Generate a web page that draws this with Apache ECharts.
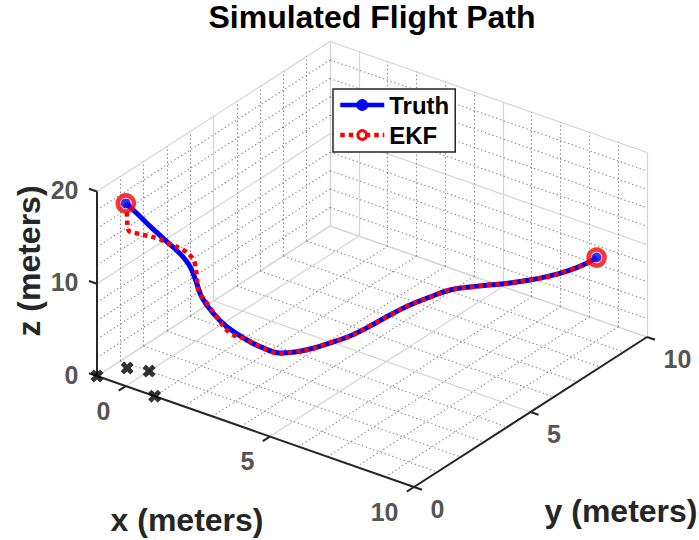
<!DOCTYPE html>
<html>
<head>
<meta charset="utf-8">
<script src="https://cdn.jsdelivr.net/npm/echarts@6/dist/echarts.min.js"></script>
<style>
  html, body { margin: 0; padding: 0; background: #fff; }
  #chart { width: 699px; height: 540px; }
</style>
</head>
<body>
<div id="chart"></div>
<script>
// True flight path samples (meters)
const truthX = [0.00, 0.20, 0.39, 0.55, 0.71, 0.96, 1.14, 1.32, 1.48, 1.75, 2.13, 2.69, 3.06, 3.57, 3.77, 3.94, 4.15, 4.35, 4.49, 4.58, 4.75, 5.01, 5.35, 5.82, 6.30, 6.77, 7.22, 7.62, 7.93, 8.12, 8.25];
const truthY = [0.00, 0.22, 0.42, 0.65, 0.88, 1.13, 1.35, 1.41, 1.42, 1.59, 1.70, 1.87, 1.98, 2.21, 2.60, 3.03, 3.63, 4.24, 4.93, 5.67, 6.32, 6.85, 7.30, 7.57, 7.84, 8.11, 8.42, 8.78, 9.26, 9.67, 10.00];
const truthZ = [19.8, 18.6, 17.4, 16.2, 15.0, 13.6, 12.0, 10.3, 9.0, 7.2, 6.0, 4.9, 4.4, 3.9, 3.6, 3.4, 3.3, 3.3, 3.4, 3.5, 3.7, 4.0, 4.4, 4.8, 5.1, 5.4, 5.7, 6.0, 6.2, 6.4, 6.7];

// EKF position estimates (meters)
const ekfX = [0.00, 0.01, 0.08, 0.32, 0.75, 1.06, 1.30, 1.43, 1.45, 1.51, 1.56, 1.78, 2.07, 2.49, 2.71, 3.05, 3.58, 3.76, 3.95, 4.14, 4.36, 4.48, 4.59, 4.74, 5.02, 5.34, 5.83, 6.29, 6.78, 7.21, 7.63, 7.92, 8.13, 8.25];
const ekfY = [0.00, 0.03, 0.01, 0.07, 0.40, 0.59, 0.85, 1.06, 1.17, 1.18, 1.18, 1.27, 1.34, 1.40, 1.86, 1.99, 2.20, 2.61, 3.02, 3.64, 4.23, 4.94, 5.66, 6.33, 6.84, 7.31, 7.56, 7.85, 8.10, 8.43, 8.77, 9.27, 9.66, 10.00];
const ekfZ = [19.8, 18.7, 17.0, 16.8, 16.2, 15.6, 14.8, 13.8, 13.0, 11.6, 10.2, 8.9, 7.6, 6.2, 4.95, 4.40, 3.88, 3.62, 3.38, 3.31, 3.28, 3.42, 3.49, 3.72, 3.98, 4.41, 4.79, 5.12, 5.38, 5.71, 5.99, 6.21, 6.39, 6.70];

// Ground beacons (meters)
const beaconX = [-1, -0.6, 0, 1];
const beaconY = [0, 0.8, 1, 0];
const beaconZ = [0, 0, 0, 0];

// Axis limits, major ticks and minor grid steps
const xLim = [-1, 10];
const yLim = [0, 10];
const zLim = [0, 20];
const xTicks = [0, 5, 10];
const yTicks = [0, 5, 10];
const zTicks = [0, 10, 20];
const xMinorStep = 1, yMinorStep = 1, zMinorStep = 2;

// Orthographic view of the plot box: screen position of the (xmin, ymin, zmin)
// corner and the screen vector spanned by each full box edge.
const view = { corner: [97, 376], xEdge: [317, 111], yEdge: [233, -150], zEdge: [0, -184.5] };

function project(x, y, z) {
  const fx = (x - xLim[0]) / (xLim[1] - xLim[0]);
  const fy = (y - yLim[0]) / (yLim[1] - yLim[0]);
  const fz = (z - zLim[0]) / (zLim[1] - zLim[0]);
  return [
    view.corner[0] + fx * view.xEdge[0] + fy * view.yEdge[0] + fz * view.zEdge[0],
    view.corner[1] + fx * view.xEdge[1] + fy * view.yEdge[1] + fz * view.zEdge[1]
  ];
}

function steps(a, b, step) {
  const out = [];
  for (let v = a; v <= b + 1e-9; v += step) out.push(Math.round(v * 1000) / 1000);
  return out;
}

function unit(v) { const l = Math.hypot(v[0], v[1]); return [v[0] / l, v[1] / l]; }

const [x0, x1] = xLim, [y0, y1] = yLim, [z0, z1] = zLim;

// Back-wall and floor grid
const majorSegs = [], minorSegs = [];
function seg(major, p, q) {
  (major ? majorSegs : minorSegs).push({ coords: [project(...p), project(...q)] });
}
const isMajor = (v, ticks, lim) => ticks.includes(v) || v === lim[0] || v === lim[1];

steps(x0, x1, xMinorStep).forEach(x => seg(isMajor(x, xTicks, xLim), [x, y0, z0], [x, y1, z0]));
steps(y0, y1, yMinorStep).forEach(y => seg(isMajor(y, yTicks, yLim), [x0, y, z0], [x1, y, z0]));
steps(y0, y1, yMinorStep).forEach(y => seg(isMajor(y, yTicks, yLim), [x0, y, z0], [x0, y, z1]));
steps(z0, z1, zMinorStep).forEach(z => seg(isMajor(z, zTicks, zLim), [x0, y0, z], [x0, y1, z]));
steps(x0, x1, xMinorStep).forEach(x => seg(isMajor(x, xTicks, xLim), [x, y1, z0], [x, y1, z1]));
steps(z0, z1, zMinorStep).forEach(z => seg(isMajor(z, zTicks, zLim), [x0, y1, z], [x1, y1, z]));

// Front axis lines and tick marks
const axisSegs = [
  { coords: [project(x0, y0, z0), project(x1, y0, z0)] },
  { coords: [project(x1, y0, z0), project(x1, y1, z0)] },
  { coords: [project(x0, y0, z0), project(x0, y0, z1)] }
];
const tickLen = 8.5;
const dirMinusY = unit([-view.yEdge[0], -view.yEdge[1]]);
const dirPlusX = unit(view.xEdge);
const dirMinusX = unit([-view.xEdge[0], -view.xEdge[1]]);
function tickSeg(p, d) { return { coords: [p, [p[0] + d[0] * tickLen, p[1] + d[1] * tickLen]] }; }
xTicks.forEach(v => axisSegs.push(tickSeg(project(v, y0, z0), dirMinusY)));
yTicks.forEach(v => axisSegs.push(tickSeg(project(x1, v, z0), dirPlusX)));
zTicks.forEach(v => axisSegs.push(tickSeg(project(x0, y0, v), dirMinusX)));

const FONT = '"Liberation Sans", Arial, Helvetica, sans-serif';
const INK = '#262626';

function pathPoints(xs, ys, zs) {
  return xs.map((x, i) => ({ value: project(x, ys[i], zs[i]), symbol: 'none' }));
}
function endPoints(xs, ys, zs) {
  return [0, xs.length - 1].map(i => project(xs[i], ys[i], zs[i]));
}

function tickLabelSeries(points, labels, labelOpt) {
  return {
    type: 'scatter', silent: true, symbolSize: 1, z: 8,
    itemStyle: { color: 'rgba(0,0,0,0)' },
    data: points.map((p, i) => ({ value: p, label: { formatter: String(labels[i]) } })),
    label: Object.assign({
      show: true, color: INK, fontFamily: FONT, fontWeight: 'bold', fontSize: 25
    }, labelOpt)
  };
}

const chart = echarts.init(document.getElementById('chart'), null, { renderer: 'svg', width: 699, height: 540 });

chart.setOption({
  animation: false,
  backgroundColor: '#ffffff',
  title: {
    text: 'Simulated Flight Path',
    left: 372, top: 1, textAlign: 'center', padding: 0,
    textStyle: { fontFamily: FONT, fontWeight: 'bold', fontSize: 32, color: '#000' }
  },
  grid: { left: 0, right: 0, top: 0, bottom: 0 },
  xAxis: { type: 'value', min: 0, max: 699, show: false },
  yAxis: { type: 'value', min: 0, max: 540, inverse: true, show: false },
  legend: {
    data: ['Truth', 'EKF'],
    orient: 'vertical',
    left: 333, top: 89,
    padding: [4, 6, 5, 5],
    itemGap: 6,
    itemWidth: 44, itemHeight: 11,
    backgroundColor: '#fff',
    borderColor: INK, borderWidth: 1.5, borderRadius: 0,
    lineStyle: { width: 4.5 },
    itemStyle: { borderWidth: 3 },
    textStyle: { fontFamily: FONT, fontWeight: 'bold', fontSize: 24, color: '#000', padding: [0, 0, 0, 0] },
    selectedMode: false
  },
  graphic: [
    { type: 'text', x: 187, y: 520, style: { text: 'x (meters)', align: 'center', verticalAlign: 'middle', font: 'bold 32px ' + FONT, fill: INK } },
    { type: 'text', x: 621, y: 511, style: { text: 'y (meters)', align: 'center', verticalAlign: 'middle', font: 'bold 32px ' + FONT, fill: INK } },
    { type: 'text', x: 29, y: 261, rotation: Math.PI / 2, style: { text: 'z (meters)', align: 'center', verticalAlign: 'middle', font: 'bold 32px ' + FONT, fill: INK } }
  ],
  series: [
    {
      type: 'lines', coordinateSystem: 'cartesian2d', silent: true, z: 1,
      lineStyle: { color: '#d4d4d4', width: 1.2, opacity: 1 },
      data: majorSegs
    },
    {
      type: 'lines', coordinateSystem: 'cartesian2d', silent: true, z: 1,
      lineStyle: { color: '#8a8a8a', width: 1.1, type: [1.4, 2.6], opacity: 1 },
      data: minorSegs
    },
    {
      type: 'lines', coordinateSystem: 'cartesian2d', silent: true, z: 2,
      lineStyle: { color: INK, width: 2, opacity: 1 },
      data: axisSegs
    },
    {
      name: 'Truth', type: 'line', z: 3, silent: true,
      smooth: 0.4,
      symbol: 'circle', symbolSize: 10,
      itemStyle: { color: '#0000ff', borderColor: '#0000ff' },
      lineStyle: { color: '#0000ff', width: 5 },
      data: pathPoints(truthX, truthY, truthZ)
    },
    {
      name: 'EKF', type: 'line', z: 4, silent: true,
      smooth: 0.4,
      symbol: 'circle', symbolSize: 10,
      itemStyle: { color: '#ffffff', borderColor: '#ff0000' },
      lineStyle: { color: '#ff0000', width: 4.5, type: [4.5, 4] },
      data: pathPoints(ekfX, ekfY, ekfZ)
    },
    {
      name: 'EKF ends', type: 'scatter', z: 5, silent: true,
      symbol: 'circle', symbolSize: 16,
      itemStyle: { color: 'rgba(255,255,255,0)', borderColor: '#ff0000', borderWidth: 4.5 },
      data: endPoints(ekfX, ekfY, ekfZ)
    },
    {
      name: 'Truth ends', type: 'scatter', z: 6, silent: true,
      symbol: 'circle', symbolSize: 10,
      itemStyle: { color: '#0000ff' },
      data: endPoints(truthX, truthY, truthZ)
    },
    {
      name: 'Beacons', type: 'scatter', z: 6, silent: true,
      symbol: 'path://M2.6,0 L5,2.4 L7.4,0 L10,2.6 L7.6,5 L10,7.4 L7.4,10 L5,7.6 L2.6,10 L0,7.4 L2.4,5 L0,2.6 Z',
      symbolSize: 13,
      itemStyle: { color: '#000' },
      data: beaconX.map((x, i) => project(x, beaconY[i], beaconZ[i]))
    },
    tickLabelSeries(xTicks.map(v => project(v, y0, z0)), xTicks,
      { position: [-15, 25], align: 'right', verticalAlign: 'middle' }),
    tickLabelSeries(yTicks.map(v => project(x1, v, z0)), yTicks,
      { position: [17, 22], align: 'left', verticalAlign: 'middle' }),
    tickLabelSeries(zTicks.map(v => project(x0, y0, v)), zTicks,
      { position: [-18, -1], align: 'right', verticalAlign: 'middle' })
  ]
});
</script>
</body>
</html>
